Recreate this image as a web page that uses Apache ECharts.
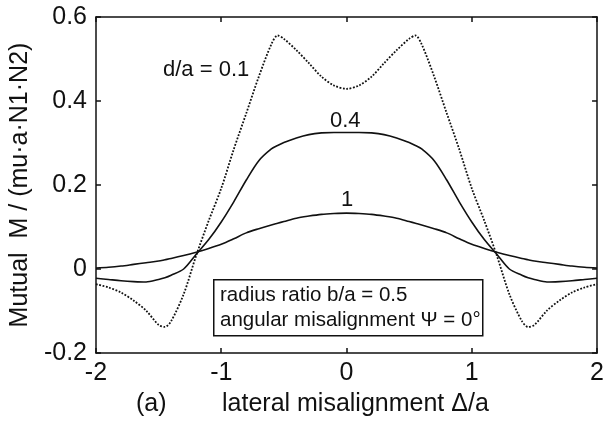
<!DOCTYPE html>
<html>
<head>
<meta charset="utf-8">
<script src="https://cdn.jsdelivr.net/npm/echarts@6/dist/echarts.min.js"></script>
<style>
  html, body { margin: 0; padding: 0; background: #fff; }
  #chart { width: 607px; height: 426px; }
</style>
</head>
<body>
<div id="chart"></div>
<script>
// lateral misalignment Δ/a
var xs = [-2.0, -1.9, -1.8, -1.7, -1.6, -1.5, -1.45, -1.4, -1.3, -1.2, -1.1, -1.0, -0.9, -0.8, -0.7, -0.6, -0.55, -0.5, -0.4, -0.3, -0.2, -0.1,
  0.0, 0.1, 0.2, 0.3, 0.4, 0.5, 0.55, 0.6, 0.7, 0.8, 0.9, 1.0, 1.1, 1.2, 1.3, 1.4, 1.45, 1.5, 1.6, 1.7, 1.8, 1.9, 2.0];

// mutual inductance for d/a = 0.1, 0.4, 1
var m01 = [-0.036, -0.044, -0.056, -0.075, -0.099, -0.133, -0.138, -0.124, -0.060, 0.032, 0.115, 0.192, 0.285, 0.371, 0.458, 0.535, 0.556, 0.548, 0.521, 0.490, 0.458, 0.437,
  0.429, 0.437, 0.458, 0.490, 0.521, 0.548, 0.556, 0.535, 0.458, 0.371, 0.285, 0.192, 0.115, 0.032, -0.060, -0.124, -0.138, -0.133, -0.099, -0.075, -0.056, -0.044, -0.036];
var m04 = [-0.022, -0.025, -0.028, -0.030, -0.031, -0.025, -0.021, -0.015, 0.000, 0.035, 0.070, 0.112, 0.160, 0.212, 0.258, 0.286, 0.294, 0.301, 0.312, 0.320, 0.324, 0.325,
  0.325, 0.325, 0.324, 0.320, 0.312, 0.301, 0.294, 0.286, 0.258, 0.212, 0.160, 0.112, 0.070, 0.035, 0.000, -0.015, -0.021, -0.025, -0.031, -0.030, -0.028, -0.025, -0.022];
var m1 = [0.002, 0.004, 0.007, 0.011, 0.015, 0.019, 0.022, 0.025, 0.032, 0.040, 0.049, 0.059, 0.072, 0.086, 0.096, 0.105, 0.109, 0.113, 0.121, 0.126, 0.130, 0.132,
  0.133, 0.132, 0.130, 0.126, 0.121, 0.113, 0.109, 0.105, 0.096, 0.086, 0.072, 0.059, 0.049, 0.040, 0.032, 0.025, 0.022, 0.019, 0.015, 0.011, 0.007, 0.004, 0.002];

var xTicks = [-2, -1, 0, 1, 2];
var yTicks = [-0.2, 0, 0.2, 0.4, 0.6];

function pairs(ys) {
  return xs.map(function (x, i) { return [x, ys[i]]; });
}

var chart = echarts.init(document.getElementById('chart'));
var FONT = 'Liberation Sans, Arial, sans-serif';
var INK = '#111';

var axisBase = {
  type: 'value',
  axisLine: { show: true, onZero: false, lineStyle: { color: INK, width: 1.5 } },
  axisTick: { show: true, inside: true, length: 5, lineStyle: { color: INK, width: 1.5 } },
  splitLine: { show: false }
};

var option = {
  backgroundColor: '#fff',
  animation: false,
  grid: { left: 95, right: 7, top: 17, bottom: 73 },
  xAxis: [
    Object.assign({}, axisBase, {
      position: 'bottom', min: xTicks[0], max: xTicks[xTicks.length - 1], interval: 1,
      axisLabel: { color: INK, fontFamily: FONT, fontSize: 25, margin: 8 }
    }),
    Object.assign({}, axisBase, {
      position: 'top', min: xTicks[0], max: xTicks[xTicks.length - 1], interval: 1,
      axisLabel: { show: false }
    })
  ],
  yAxis: [
    Object.assign({}, axisBase, {
      position: 'left', min: yTicks[0], max: yTicks[yTicks.length - 1], interval: 0.2,
      axisLabel: { color: INK, fontFamily: FONT, fontSize: 25, margin: 9 },
      name: 'Mutual  M / (mu·a·N1·N2)', nameLocation: 'middle', nameGap: 61,
      nameTextStyle: { color: INK, fontFamily: FONT, fontSize: 25 }
    }),
    Object.assign({}, axisBase, {
      position: 'right', min: yTicks[0], max: yTicks[yTicks.length - 1], interval: 0.2,
      axisLabel: { show: false }
    })
  ],
  series: [
    { name: 'd/a = 0.1', type: 'line', data: pairs(m01), smooth: 0.3, showSymbol: false,
      lineStyle: { color: INK, width: 1.8, type: [1.8, 1.6] } },
    { name: 'd/a = 0.4', type: 'line', data: pairs(m04), smooth: 0.3, showSymbol: false,
      lineStyle: { color: INK, width: 1.6 } },
    { name: 'd/a = 1', type: 'line', data: pairs(m1), smooth: 0.3, showSymbol: false,
      lineStyle: { color: INK, width: 1.6 } }
  ],
  graphic: [
    { type: 'text', left: 163, top: 59, style: { text: 'd/a = 0.1', fill: INK, font: '22px ' + FONT } },
    { type: 'text', left: 330, top: 110, style: { text: '0.4', fill: INK, font: '22px ' + FONT } },
    { type: 'text', left: 341, top: 189, style: { text: '1', fill: INK, font: '22px ' + FONT } },
    { type: 'rect', left: 213, top: 279, shape: { width: 269, height: 56 },
      style: { fill: '#fff', stroke: INK, lineWidth: 1.5 } },
    { type: 'text', left: 220, top: 285, style: { text: 'radius ratio b/a = 0.5', fill: INK, font: '20.5px ' + FONT } },
    { type: 'text', left: 220, top: 310, style: { text: 'angular misalignment \u03A8 = 0\u00B0', fill: INK, font: '20.5px ' + FONT } },
    { type: 'text', left: 136, top: 392, style: { text: '(a)', fill: INK, font: '25px ' + FONT } },
    { type: 'text', left: 222, top: 392, style: { text: 'lateral misalignment \u0394/a', fill: INK, font: '25px ' + FONT } }
  ]
};

chart.setOption(option);
</script>
</body>
</html>
